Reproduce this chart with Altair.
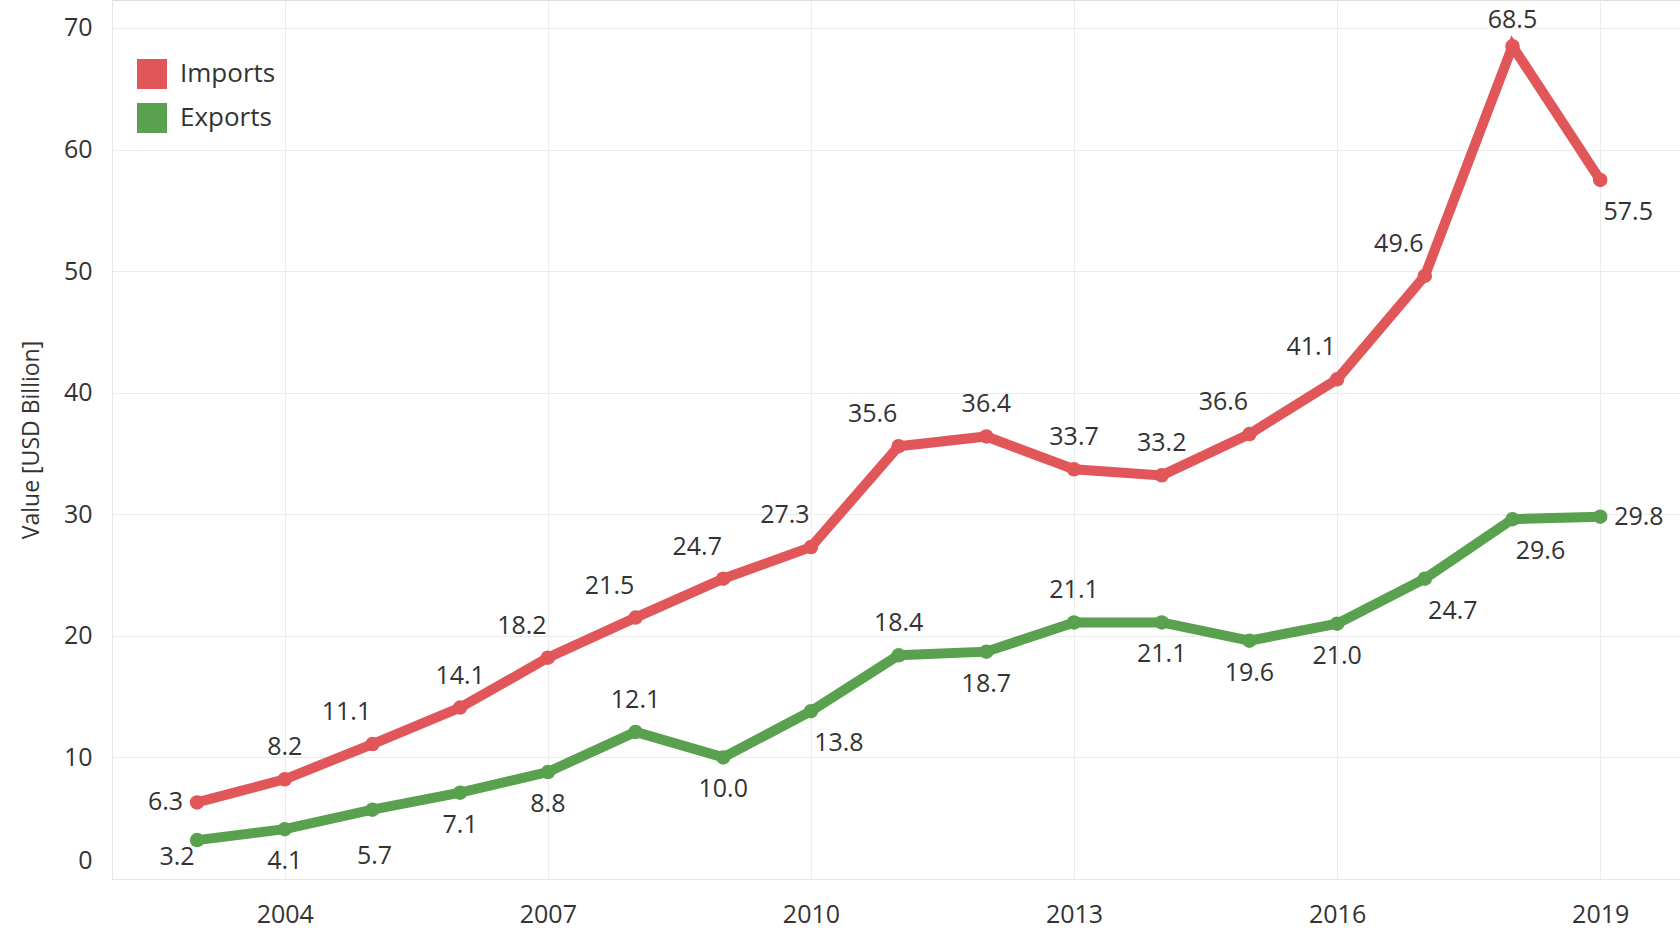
import altair as alt
import pandas as pd

years = list(range(2003, 2020))
imports = [6.3, 8.2, 11.1, 14.1, 18.2, 21.5, 24.7, 27.3, 35.6, 36.4, 33.7, 33.2, 36.6, 41.1, 49.6, 68.5, 57.5]
exports = [3.2, 4.1, 5.7, 7.1, 8.8, 12.1, 10.0, 13.8, 18.4, 18.7, 21.1, 21.1, 19.6, 21.0, 24.7, 29.6, 29.8]
# label placement codes (T=top, TS=top short, TL=top-left, B=bottom, BF=bottom far, BR=bottom-right,
# BL=bottom-left, L=left, R=right)
imports_pos = ["L", "T", "TL", "T", "TL", "TL", "TL", "TL", "TL", "T", "T", "T", "TL", "TL", "TL", "TS", "BR"]
exports_pos = ["BL", "B", "BF", "B", "B", "T", "B", "BR", "T", "B", "T", "B", "B", "B", "BR", "BR", "R"]
series_names = ["Imports", "Exports"]
series_colors = ["#E15759", "#59A14F"]
x_ticks = [2004, 2007, 2010, 2013, 2016, 2019]
y_ticks = [0, 10, 20, 30, 40, 50, 60, 70]

rows = []
for y, v, p in zip(years, imports, imports_pos):
    rows.append({"year": y, "series": "Imports", "value": v, "pos": p})
for y, v, p in zip(years, exports, exports_pos):
    rows.append({"year": y, "series": "Exports", "value": v, "pos": p})
df = pd.DataFrame(rows)

FONT = "Open Sans"
offsets = {
    "T": (0, -32, "center"),
    "TS": (0, -26, "center"),
    "TL": (-26, -32, "center"),
    "B": (0, 32, "center"),
    "BF": (2, 46, "center"),
    "BR": (28, 32, "center"),
    "BL": (-20, 17, "center"),
    "L": (-14, 0, "right"),
    "R": (14, 0, "left"),
}

x_enc = alt.X("year:Q", scale=alt.Scale(domain=[2002.03, 2019.91], nice=False, zero=False),
              axis=alt.Axis(values=x_ticks, format="d", title=None, grid=True, ticks=False,
                            labelPadding=23, labelFontSize=25, labelColor="#333333",
                            labelFont=FONT, domainColor="#e6e6e6", gridColor="#ececec"))
y_enc = alt.Y("value:Q", scale=alt.Scale(domain=[0, 72.3], nice=False),
              axis=alt.Axis(values=y_ticks, title="Value [USD Billion]", grid=True, ticks=False,
                            labelPadding=20, labelFontSize=25, labelColor="#333333", labelFont=FONT,
                            labelFlush=True, labelFlushOffset=-6,
                            titleFont=FONT, titleFontSize=23, titleFontWeight="normal",
                            titleColor="#333333", titlePadding=20,
                            domainColor="#e6e6e6", gridColor="#ececec"))
color_enc = alt.Color("series:N", scale=alt.Scale(domain=series_names, range=series_colors),
                      legend=alt.Legend(title=None, orient="none", legendX=25, legendY=59,
                                        symbolType="square", symbolSize=900, symbolStrokeWidth=0,
                                        labelFontSize=26, labelFont=FONT, labelColor="#333333",
                                        labelOffset=13, rowPadding=14, padding=0))

base = alt.Chart(df)
line = base.mark_line(strokeWidth=10).encode(x=x_enc, y=y_enc, color=color_enc, detail="series:N")
pts = base.mark_point(filled=True, size=210, opacity=1).encode(x=x_enc, y=y_enc, color=color_enc)

layers = [line, pts]
for code, (dx, dy, al) in offsets.items():
    layers.append(
        base.transform_filter(alt.datum.pos == code)
        .mark_text(dx=dx, dy=dy, align=al, baseline="middle", fontSize=25, font=FONT, color="#333333")
        .encode(x="year:Q", y="value:Q", text=alt.Text("value:Q", format=".1f"))
    )

chart = alt.layer(*layers).properties(
    width=1568, height=879,
    autosize=alt.AutoSizeParams(type="none"),
    padding={"left": 112, "top": 0, "right": 0, "bottom": 51},
).configure_view(stroke=None).configure(background="white")

chart.save("out.html", embed_options={"renderer": "svg", "actions": False})
